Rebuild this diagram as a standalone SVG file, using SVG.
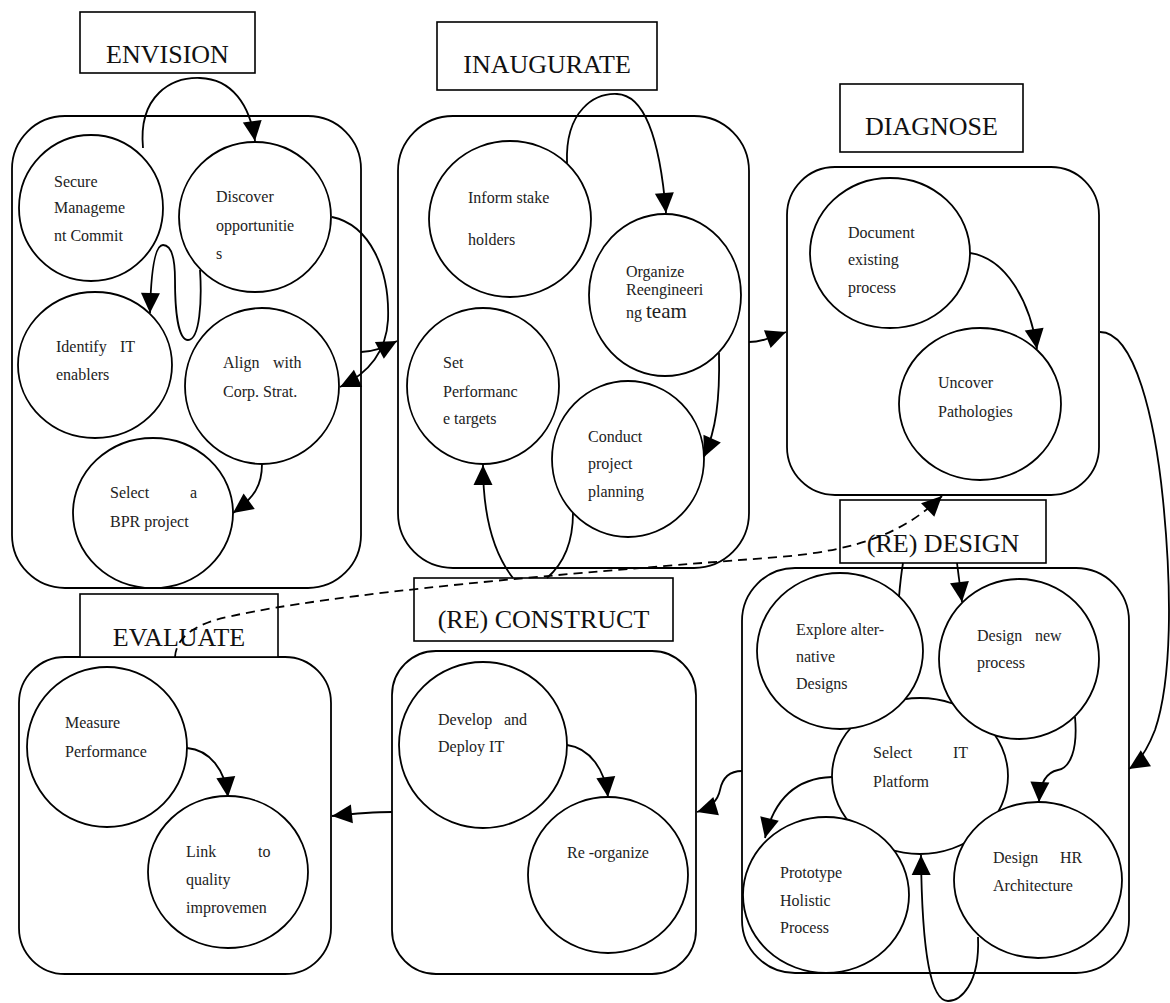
<svg xmlns="http://www.w3.org/2000/svg" width="1170" height="1003" viewBox="0 0 1170 1003">
  <style>
    .stage { fill: none; stroke: #000; stroke-width: 1.8; }
    .label { fill: #fff; stroke: #000; stroke-width: 1.6; }
    .step { fill: #fff; stroke: #000; stroke-width: 1.8; }
    .title { font-family: "Liberation Serif", "Times New Roman", serif; font-size: 26px; fill: #111; text-anchor: middle; }
    .t { font-family: "Liberation Serif", "Times New Roman", serif; font-size: 16px; fill: #222; }
    .big { font-size: 21px; }
    .link { fill: none; stroke: #000; stroke-width: 1.8; }
    .arrow { marker-end: url(#ah); }
    .dash { stroke-dasharray: 9 6; }
  </style>
  <defs>
    <marker id="ah" markerUnits="userSpaceOnUse" markerWidth="21" markerHeight="20" refX="20" refY="9.5" orient="auto" overflow="visible">
      <path d="M0,0 L20,9.5 L0,19 z" fill="#000"/>
    </marker>
  </defs>
  <rect width="1170" height="1003" fill="#fff"/>

  <!-- ENVISION -->
  <g id="envision">
    <rect class="stage" x="12" y="116" width="349" height="472" rx="53" ry="53"/>
    <rect class="label" x="80" y="12" width="175" height="61"/>
    <text class="title" x="167.5" y="63">ENVISION</text>
    <g id="secure-commitment">
      <ellipse class="step" cx="91" cy="208" rx="72" ry="73"/>
      <text class="t" x="54" y="187">Secure</text>
      <text class="t" x="54" y="213">Manageme</text>
      <text class="t" x="54" y="241">nt Commit</text>
    </g>
    <g id="discover-opportunities">
      <ellipse class="step" cx="255" cy="217" rx="76" ry="75"/>
      <text class="t" x="216" y="202">Discover</text>
      <text class="t" x="216" y="231">opportunitie</text>
      <text class="t" x="216" y="259">s</text>
    </g>
    <g id="identify-it">
      <ellipse class="step" cx="95" cy="365" rx="77" ry="73"/>
      <text class="t" x="56" y="352">Identify</text>
      <text class="t" x="120" y="352">IT</text>
      <text class="t" x="56" y="380">enablers</text>
    </g>
    <g id="align-strategy">
      <ellipse class="step" cx="262" cy="386" rx="77" ry="78"/>
      <text class="t" x="223" y="368">Align</text>
      <text class="t" x="273" y="368">with</text>
      <text class="t" x="223" y="397">Corp. Strat.</text>
    </g>
    <g id="select-bpr">
      <ellipse class="step" cx="153" cy="513" rx="80" ry="75"/>
      <text class="t" x="110" y="498">Select</text>
      <text class="t" x="190" y="498">a</text>
      <text class="t" x="110" y="527">BPR project</text>
    </g>
  </g>

  <!-- INAUGURATE -->
  <g id="inaugurate">
    <rect class="stage" x="398" y="116" width="351" height="452" rx="55" ry="55"/>
    <rect class="label" x="437" y="22" width="220" height="68"/>
    <text class="title" x="547" y="73">INAUGURATE</text>
    <g id="inform-stakeholders">
      <ellipse class="step" cx="510" cy="219" rx="81" ry="78"/>
      <text class="t" x="468" y="203">Inform stake</text>
      <text class="t" x="468" y="245">holders</text>
    </g>
    <g id="organize-team">
      <ellipse class="step" cx="665" cy="295" rx="76" ry="81"/>
      <text class="t" x="626" y="277">Organize</text>
      <text class="t" x="626" y="295">Reengineeri</text>
      <text class="t" x="626" y="318">ng <tspan class="big">team</tspan></text>
    </g>
    <g id="set-targets">
      <ellipse class="step" cx="483" cy="386" rx="76" ry="78"/>
      <text class="t" x="443" y="368">Set</text>
      <text class="t" x="443" y="397">Performanc</text>
      <text class="t" x="443" y="424">e targets</text>
    </g>
    <g id="project-planning">
      <ellipse class="step" cx="628" cy="459" rx="76" ry="78"/>
      <text class="t" x="588" y="442">Conduct</text>
      <text class="t" x="588" y="469">project</text>
      <text class="t" x="588" y="497">planning</text>
    </g>
  </g>

  <!-- DIAGNOSE -->
  <g id="diagnose">
    <rect class="stage" x="787" y="167" width="312" height="328" rx="48" ry="48"/>
    <rect class="label" x="840" y="84" width="183" height="68"/>
    <text class="title" x="931.5" y="135">DIAGNOSE</text>
    <g id="document-process">
      <ellipse class="step" cx="890" cy="253" rx="80" ry="75"/>
      <text class="t" x="848" y="238">Document</text>
      <text class="t" x="848" y="265">existing</text>
      <text class="t" x="848" y="293">process</text>
    </g>
    <g id="uncover-pathologies">
      <ellipse class="step" cx="980" cy="404" rx="81" ry="76"/>
      <text class="t" x="938" y="388">Uncover</text>
      <text class="t" x="938" y="417">Pathologies</text>
    </g>
  </g>

  <!-- (RE) DESIGN -->
  <g id="redesign">
    <rect class="stage" x="742" y="568" width="387" height="405" rx="53" ry="53"/>
    <rect class="label" x="840" y="500" width="206" height="63"/>
    <text class="title" x="943" y="552">(RE) DESIGN</text>
    <g id="select-platform">
      <ellipse class="step" cx="920" cy="776" rx="88" ry="78"/>
      <text class="t" x="873" y="758">Select</text>
      <text class="t" x="953" y="758">IT</text>
      <text class="t" x="873" y="787">Platform</text>
    </g>
    <g id="explore-designs">
      <ellipse class="step" cx="840" cy="651" rx="83" ry="78"/>
      <text class="t" x="796" y="635">Explore alter-</text>
      <text class="t" x="796" y="662">native</text>
      <text class="t" x="796" y="689">Designs</text>
    </g>
    <g id="design-process">
      <ellipse class="step" cx="1019" cy="659" rx="80" ry="80"/>
      <text class="t" x="977" y="641">Design</text>
      <text class="t" x="1035" y="641">new</text>
      <text class="t" x="977" y="668">process</text>
    </g>
    <g id="prototype-process">
      <ellipse class="step" cx="826" cy="895" rx="83" ry="78"/>
      <text class="t" x="780" y="878">Prototype</text>
      <text class="t" x="780" y="906">Holistic</text>
      <text class="t" x="780" y="933">Process</text>
    </g>
    <g id="design-hr">
      <ellipse class="step" cx="1038" cy="880" rx="84" ry="78"/>
      <text class="t" x="993" y="863">Design</text>
      <text class="t" x="1060" y="863">HR</text>
      <text class="t" x="993" y="891">Architecture</text>
    </g>
  </g>

  <!-- (RE) CONSTRUCT -->
  <g id="reconstruct">
    <rect class="stage" x="392" y="651" width="304" height="323" rx="44" ry="44"/>
    <rect class="label" x="414" y="578" width="259" height="63"/>
    <text class="title" x="543.5" y="628">(RE) CONSTRUCT</text>
    <g id="deploy-it">
      <ellipse class="step" cx="483" cy="745" rx="84" ry="83"/>
      <text class="t" x="438" y="725">Develop</text>
      <text class="t" x="504" y="725">and</text>
      <text class="t" x="438" y="752">Deploy IT</text>
    </g>
    <g id="reorganize">
      <ellipse class="step" cx="608" cy="875" rx="80" ry="78"/>
      <text class="t" x="567" y="858">Re -organize</text>
    </g>
  </g>

  <!-- EVALUATE -->
  <g id="evaluate">
    <rect class="stage" x="19" y="657" width="312" height="317" rx="46" ry="46"/>
    <rect class="label" x="80" y="594" width="198" height="63"/>
    <text class="title" x="179" y="646">EVALUATE</text>
    <g id="measure-performance">
      <ellipse class="step" cx="107" cy="747" rx="80" ry="80"/>
      <text class="t" x="65" y="728">Measure</text>
      <text class="t" x="65" y="757">Performance</text>
    </g>
    <g id="link-quality">
      <ellipse class="step" cx="228" cy="872" rx="80" ry="76"/>
      <text class="t" x="186" y="857">Link</text>
      <text class="t" x="258" y="857">to</text>
      <text class="t" x="186" y="885">quality</text>
      <text class="t" x="186" y="913">improvemen</text>
    </g>
  </g>

  <!-- connectors -->
  <g id="connectors">
    <!-- envision -->
    <path class="link arrow" d="M143,148 C138,95 172,77 200,78 C232,79 250,105 255,141"/>
    <path class="link arrow" d="M200,270 C202,300 200,340 188,340 C178,340 175,310 175,280 C175,255 170,245 163,245 C155,245 151,270 150,313"/>
    <path class="link arrow" d="M332,217 C370,225 390,270 388,320 C386,355 365,375 340,387"/>
    <path class="link arrow" d="M262,464 C262,485 255,497 233,513"/>
    <path class="link arrow" d="M361,352 C372,352 382,349 397,341"/>
    <!-- inaugurate -->
    <path class="link arrow" d="M567,163 C565,110 595,93 617,94 C645,95 660,140 666,213"/>
    <path class="link arrow" d="M719,353 C720,400 716,430 704,457"/>
    <path class="link" d="M573,513 C573,545 562,565 547,578"/>
    <path class="link arrow" d="M513,578 C495,555 483,520 483,465"/>
    <path class="link arrow" d="M749,342 C760,342 770,338 786,332"/>
    <!-- diagnose -->
    <path class="link arrow" d="M970,253 C1005,258 1030,300 1037,349"/>
    <path class="link arrow" d="M1100,332 C1135,332 1155,420 1163,500 C1172,590 1172,680 1155,730 C1148,748 1140,762 1129,769"/>
    <!-- redesign -->
    <path class="link" d="M903,563 C901,575 900,585 899,597"/>
    <path class="link arrow" d="M957,563 L962,602"/>
    <path class="link arrow" d="M832,777 C800,778 775,795 765,838"/>
    <path class="link arrow" d="M1075,717 C1078,750 1070,768 1058,770 C1048,772 1040,780 1039,802"/>
    <path class="link arrow" d="M978,937 C980,985 960,1001 948,1001 C932,1001 922,960 921,855"/>
    <path class="link arrow" d="M742,771 C728,771 722,780 720,790 C718,800 710,808 697,812"/>
    <!-- reconstruct / evaluate -->
    <path class="link arrow" d="M567,745 C590,748 605,770 608,797"/>
    <path class="link arrow" d="M392,812 C372,812 360,813 332,816"/>
    <path class="link arrow" d="M187,748 C210,750 225,770 228,797"/>
    <!-- feedback -->
    <path class="link arrow dash" d="M175,657 C176,640 190,628 215,620 C300,598 500,578 780,557 C860,550 905,532 942,496"/>
  </g>
</svg>
